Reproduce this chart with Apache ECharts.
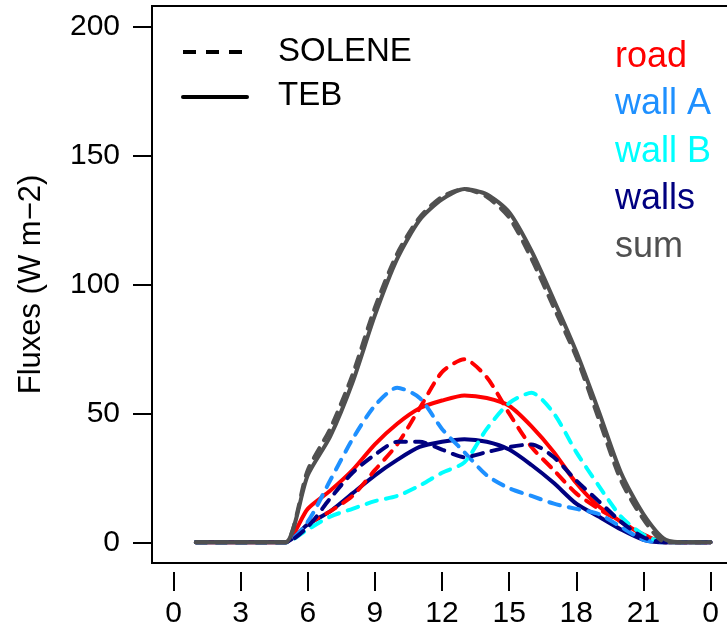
<!DOCTYPE html>
<html>
<head>
<meta charset="utf-8">
<script src="https://cdn.jsdelivr.net/npm/echarts@6/dist/echarts.min.js"></script>
<style>
  html, body { margin: 0; padding: 0; background: #fff; }
  #fluxchart { width: 727px; height: 634px; }
</style>
</head>
<body>
<div id="fluxchart"></div>
<script>
// hours of the day (24 = midnight, labelled 0)
var hours = [1, 2, 3, 4, 5, 6, 7, 8, 9, 10, 11, 12, 13, 14, 15, 16, 17, 18, 19, 20, 21, 22, 23, 24];
var xTicks = [0, 3, 6, 9, 12, 15, 18, 21, 24];
var yTicks = [0, 50, 100, 150, 200];

// SOLENE (dashed)
var roadSolene  = [0, 0, 0, 0, 0, 7, 12, 18, 28, 38, 52, 66, 71, 64, 50, 37, 28, 19, 13, 8, 3, 0, 0, 0];
var wallASolene = [0, 0, 0, 0, 0, 8, 24, 40, 53, 60, 56, 44, 35, 26, 21, 18, 15, 13, 11, 6, 1, 0, 0, 0];
var wallBSolene = [0, 0, 0, 0, 0, 5, 10, 13, 16, 18, 22, 27, 31, 44, 54, 58, 50, 35, 22, 10, 3, 0, 0, 0];
var wallsSolene = [0, 0, 0, 0, 0, 6, 17, 27, 34, 39, 39, 36, 33, 35, 37, 38, 33, 24, 16, 8, 2, 0, 0, 0];
var sumSolene   = [0, 0, 0, 0, 0, 28, 44, 65, 91, 112, 126, 134, 137, 134, 126, 110, 91, 72, 48, 24, 9, 0, 0, 0];

// TEB (solid)
var roadTeb  = [0, 0, 0, 0, 0, 13, 20, 28, 38, 46, 52, 55, 57, 56, 53, 45, 35, 23, 14, 8, 3, 0, 0, 0];
var wallsTeb = [0, 0, 0, 0, 0, 7, 12, 19, 26, 32, 37, 39, 40, 39, 36, 30, 23, 15, 10, 5, 1, 0, 0, 0];
var sumTeb   = [0, 0, 0, 0, 0, 26, 41, 62, 88, 110, 125, 133, 137, 135, 128, 113, 94, 74, 51, 27, 11, 1, 0, 0];

var colRoad = '#ff0000';
var colWallA = '#1e90ff';
var colWallB = '#00ffff';
var colWalls = '#000080';
var colSum = '#505050';

var fontFam = '"Liberation Sans", Arial, Helvetica, sans-serif';

function pairs(vals) {
  return hours.map(function (h, i) { return [h, vals[i]]; });
}

function makeLine(name, vals, color, dashed) {
  return {
    name: name,
    type: 'line',
    data: pairs(vals),
    symbol: 'none',
    smooth: 0.25,
    animation: false,
    lineStyle: {
      color: color,
      width: 4,
      type: dashed ? [11, 9] : 'solid',
      cap: 'round',
      join: 'round'
    }
  };
}

function legendText(label, color, x, y, size) {
  return {
    type: 'text', x: x, y: y,
    style: {
      text: label, fill: color, fontSize: size, fontFamily: fontFam,
      align: 'left', verticalAlign: 'middle'
    }
  };
}

var myChart = echarts.init(document.getElementById('fluxchart'));

var options = {
  backgroundColor: '#fff',
  animation: false,
  grid: {
    left: 152,
    top: 6,
    width: 580,
    height: 557,
    outerBoundsMode: 'none',
    containLabel: false,
    show: true,
    borderColor: '#000',
    borderWidth: 2,
    backgroundColor: 'transparent'
  },
  xAxis: {
    type: 'value',
    min: -0.96,
    max: 24.96,
    offset: 9,
    axisLine: { show: false, onZero: false },
    splitLine: { show: false },
    axisTick: {
      show: true,
      inside: false,
      customValues: xTicks,
      length: 19,
      lineStyle: { color: '#000', width: 2 }
    },
    axisLabel: {
      customValues: xTicks,
      margin: 27,
      color: '#000',
      fontSize: 30,
      fontFamily: fontFam,
      formatter: function (v) { return String(v % 24); }
    }
  },
  yAxis: {
    type: 'value',
    min: -8,
    max: 208,
    name: 'Fluxes (W m\u22122)',
    nameLocation: 'middle',
    nameGap: 105,
    nameTextStyle: { color: '#000', fontSize: 31, fontFamily: fontFam },
    axisLine: { show: false, onZero: false },
    splitLine: { show: false },
    axisTick: {
      show: true,
      inside: false,
      customValues: yTicks,
      length: 19,
      lineStyle: { color: '#000', width: 2 }
    },
    axisLabel: {
      customValues: yTicks,
      margin: 32,
      color: '#000',
      fontSize: 30,
      fontFamily: fontFam
    }
  },
  graphic: [
    // linetype legend
    { type: 'line', shape: { x1: 183, y1: 52, x2: 247, y2: 52 },
      style: { stroke: '#000', lineWidth: 4, lineDash: [13, 10] } },
    legendText('SOLENE', '#000', 278, 52, 33),
    { type: 'line', shape: { x1: 183, y1: 97, x2: 247, y2: 97 },
      style: { stroke: '#000', lineWidth: 4, lineCap: 'round' } },
    legendText('TEB', '#000', 278, 96, 33),
    // colour legend
    legendText('road', colRoad, 615, 57, 36),
    legendText('wall A', colWallA, 615, 104, 36),
    legendText('wall B', colWallB, 615, 152, 36),
    legendText('walls', colWalls, 615, 199, 36),
    legendText('sum', colSum, 615, 247, 36)
  ],
  series: [
    makeLine('road TEB', roadTeb, colRoad, false),
    makeLine('walls TEB', wallsTeb, colWalls, false),
    makeLine('road SOLENE', roadSolene, colRoad, true),
    makeLine('wall A SOLENE', wallASolene, colWallA, true),
    makeLine('wall B SOLENE', wallBSolene, colWallB, true),
    makeLine('walls SOLENE', wallsSolene, colWalls, true),
    makeLine('sum SOLENE', sumSolene, colSum, true),
    makeLine('sum TEB', sumTeb, colSum, false)
  ]
};

myChart.setOption(options);
</script>
</body>
</html>
